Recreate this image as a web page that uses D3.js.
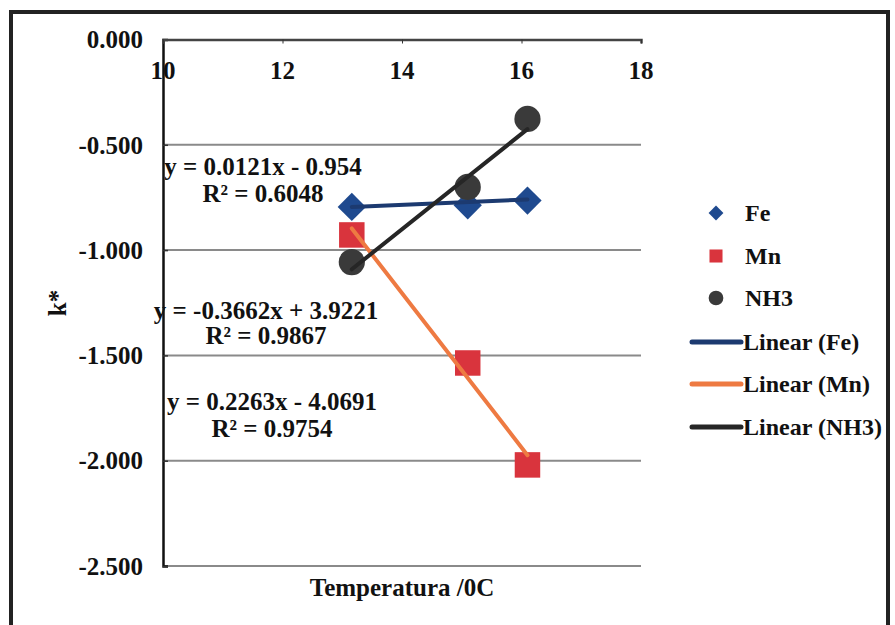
<!DOCTYPE html>
<html><head><meta charset="utf-8">
<script src="https://cdn.jsdelivr.net/npm/d3@7"></script>
<style>
body{margin:0;background:#fff;}
</style></head>
<body><svg id="c" width="895" height="625" font-family="'Liberation Serif', 'DejaVu Serif', serif" font-weight="bold"></svg>
<script>
// ---- data ----
const temps = [13.16, 15.10, 16.10];
const feValues = [-0.795, -0.787, -0.765];
const mnValues = [-0.928, -1.536, -2.020];
const nh3Values = [-1.057, -0.700, -0.377];
const seriesNames = ["Fe", "Mn", "NH3"];
const trendSlopes = [0.0121, -0.3662, 0.2263];
const trendIntercepts = [-0.954, 3.9221, -4.0691];
const trendEquations = ["y = 0.0121x - 0.954", "y = -0.3662x + 3.9221", "y = 0.2263x - 4.0691"];
const trendR2 = ["R² = 0.6048", "R² = 0.9867", "R² = 0.9754"];
const xTicks = [10, 12, 14, 16, 18];
const yTicks = [0, -0.5, -1.0, -1.5, -2.0, -2.5];
const xTitle = "Temperatura /0C";
const yTitle = "k*";

// ---- styling ----
const markerColors = ["#1F4A8F", "#D9343D", "#3A3A3A"];
const lineColors = ["#1C3A70", "#EE7A42", "#262626"];
const markerTypes = [d3.symbolSquare, d3.symbolSquare, d3.symbolCircle];
const markerRot = [45, 0, 0];

const svg = d3.select("#c");
const x = d3.scaleLinear().domain([10, 18]).range([163, 641]);
const y = d3.scaleLinear().domain([0, -2.5]).range([39.5, 566]);

// outer border
svg.append("rect").attr("x", 11).attr("y", 12).attr("width", 877).attr("height", 640)
  .attr("fill", "none").attr("stroke", "#222").attr("stroke-width", 4);

// gridlines
svg.append("g").selectAll("line").data(yTicks.filter(d => d !== 0)).join("line")
  .attr("x1", x(10)).attr("x2", x(18)).attr("y1", d => y(d)).attr("y2", d => y(d))
  .attr("stroke", "#8a8a8a").attr("stroke-width", 2);

// y axis (left), ticks inward
const yAxis = d3.axisRight(y).tickValues(yTicks).tickSize(5).tickFormat("");
const gy = svg.append("g").attr("transform", `translate(${x(10)},0)`).call(yAxis);
gy.select(".domain").attr("stroke", "#111").attr("stroke-width", 2.5);
gy.selectAll(".tick line").attr("stroke", "#333").attr("stroke-width", 1.5);

// y tick labels
svg.append("g").selectAll("text").data(yTicks).join("text")
  .attr("x", 143).attr("y", d => y(d)).attr("dy", "0.35em")
  .attr("text-anchor", "end").attr("font-size", 25).attr("fill", "#111")
  .text(d => d3.format(".3f")(d).replace("−", "-"));

// x axis at y=0 (top)
const xAxis = d3.axisBottom(x).tickValues(xTicks).tickSize(4).tickFormat("");
const gx = svg.append("g").attr("transform", `translate(0,${y(0)})`).call(xAxis);
gx.select(".domain").attr("stroke", "#444").attr("stroke-width", 2.5);
gx.selectAll(".tick line").attr("stroke", "#333");
svg.append("g").selectAll("text").data(xTicks).join("text")
  .attr("x", d => x(d)).attr("y", 70).attr("dy", "0.35em")
  .attr("text-anchor", "middle").attr("font-size", 25).attr("fill", "#111")
  .text(d => d);

// markers
const allValues = [feValues, mnValues, nh3Values];
const markerSizes = [400, 650, 540];
allValues.forEach((vals, i) => {
  svg.append("g").selectAll("path").data(vals).join("path")
    .attr("transform", (d, j) => `translate(${x(temps[j])},${y(d)}) rotate(${markerRot[i]})`)
    .attr("d", d3.symbol().type(markerTypes[i]).size(markerSizes[i]))
    .attr("fill", markerColors[i]);
});

// trendlines (on top)
const xmin = d3.min(temps), xmax = d3.max(temps);
const lineGen = d3.line().x(d => x(d[0])).y(d => y(d[1]));
trendSlopes.forEach((m, i) => {
  const b = trendIntercepts[i];
  svg.append("path").datum([[xmin, m * xmin + b], [xmax, m * xmax + b]])
    .attr("d", lineGen).attr("fill", "none")
    .attr("stroke", lineColors[i]).attr("stroke-width", 4).attr("stroke-linecap", "round");
});

// equation labels
const eqPos = [[263, 166, 193], [266, 310, 335], [272, 401, 428]];
trendEquations.forEach((eq, i) => {
  const g = svg.append("g").attr("font-size", 25).attr("fill", "#111").attr("text-anchor", "middle");
  g.append("text").attr("x", eqPos[i][0]).attr("y", eqPos[i][1]).attr("dy", "0.35em").text(eq);
  g.append("text").attr("x", eqPos[i][0]).attr("y", eqPos[i][2]).attr("dy", "0.35em").text(trendR2[i]);
});

// axis titles
svg.append("text").attr("x", 402).attr("y", 587).attr("dy", "0.35em")
  .attr("text-anchor", "middle").attr("font-size", 25).attr("fill", "#111")
  .text(xTitle);
svg.append("text").attr("transform", "translate(57,303) rotate(-90)").attr("dy", "0.35em")
  .attr("text-anchor", "middle").attr("font-size", 25).attr("fill", "#111").text(yTitle);

// legend
const legMarkY = [213, 256, 298];
const legLineY = [342, 384, 427];
const leg = svg.append("g").attr("font-size", 24).attr("fill", "#111");
seriesNames.forEach((n, i) => {
  leg.append("path").attr("transform", `translate(716,${legMarkY[i]}) rotate(${markerRot[i]})`)
    .attr("d", d3.symbol().type(markerTypes[i]).size([110, 170, 170][i]))
    .attr("fill", markerColors[i]);
  leg.append("text").attr("x", 745).attr("y", legMarkY[i]).attr("dy", "0.35em").text(n);
  leg.append("line").attr("x1", 692).attr("x2", 741).attr("y1", legLineY[i]).attr("y2", legLineY[i])
    .attr("stroke", lineColors[i]).attr("stroke-width", 5).attr("stroke-linecap", "round");
  leg.append("text").attr("x", 743).attr("y", legLineY[i]).attr("dy", "0.35em").text(`Linear (${n})`);
});
</script></body></html>
